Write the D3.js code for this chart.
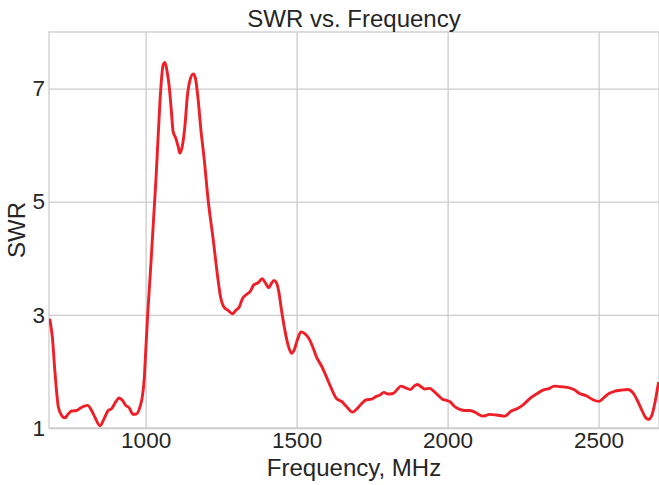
<!DOCTYPE html>
<html>
<head>
<meta charset="utf-8">
<script src="https://cdn.jsdelivr.net/npm/d3@7"></script>
<style>
  html, body { margin: 0; padding: 0; background: #fff; }
  svg { display: block; }
  text { font-family: "Liberation Sans", Arial, sans-serif; fill: #262626; }
</style>
</head>
<body>
<svg id="chart" width="659" height="485"></svg>
<script>
const frequency = [683,691,700,711,722,733,744,755,772,783,799,808,821,832,849,863,876,887,901,912,923,934,945,959,970,981,989,995,1001,1007,1014,1034,1042,1050,1058,1064,1071,1078,1085,1091,1100,1108,1113,1121,1130,1138,1147,1158,1165,1174,1183,1193,1207,1224,1240,1248,1259,1273,1288,1299,1310,1321,1334,1347,1358,1373,1386,1395,1408,1417,1425,1433,1441,1450,1461,1472,1483,1492,1502,1514,1527,1541,1555,1568,1582,1599,1615,1632,1649,1665,1685,1698,1715,1731,1748,1764,1775,1789,1803,1819,1833,1845,1861,1877,1889,1899,1910,1924,1941,1954,1968,1983,1996,2009,2023,2040,2057,2073,2090,2117,2139,2161,2189,2211,2233,2250,2272,2294,2316,2332,2354,2377,2404,2421,2437,2459,2481,2501,2514,2534,2553,2575,2597,2614,2628,2641,2655,2665,2676,2687,2698];
const swr = [2.91,2.61,1.97,1.37,1.22,1.18,1.25,1.30,1.31,1.35,1.39,1.40,1.31,1.19,1.04,1.17,1.31,1.34,1.46,1.53,1.49,1.40,1.36,1.24,1.25,1.37,1.55,1.84,2.43,3.02,3.61,5.38,6.21,6.98,7.42,7.46,7.30,7.04,6.62,6.24,6.12,5.97,5.86,5.97,6.33,6.86,7.15,7.26,7.18,6.80,6.27,5.80,5.03,4.32,3.61,3.32,3.14,3.08,3.02,3.08,3.14,3.29,3.36,3.42,3.53,3.57,3.64,3.58,3.48,3.56,3.61,3.57,3.41,3.08,2.73,2.46,2.32,2.38,2.55,2.70,2.67,2.58,2.41,2.23,2.10,1.90,1.70,1.52,1.47,1.38,1.28,1.33,1.43,1.50,1.51,1.56,1.58,1.63,1.60,1.61,1.68,1.74,1.71,1.68,1.74,1.77,1.74,1.69,1.70,1.65,1.58,1.51,1.49,1.46,1.38,1.33,1.31,1.31,1.28,1.21,1.24,1.23,1.21,1.30,1.35,1.41,1.52,1.60,1.67,1.69,1.74,1.73,1.71,1.67,1.61,1.57,1.50,1.47,1.52,1.61,1.65,1.67,1.68,1.62,1.49,1.34,1.19,1.15,1.22,1.46,1.79];
const xTicks = [1000, 1500, 2000, 2500];
const yTicks = [1, 3, 5, 7];
const xDomain = [680, 2700];
const yDomain = [1, 8];
const titleText = "SWR vs. Frequency";
const xLabel = "Frequency, MHz";
const yLabel = "SWR";

const W = 659, H = 485;
const m = { left: 49, right: 0, top: 32, bottom: 57 };
const svg = d3.select("#chart");
const x = d3.scaleLinear().domain(xDomain).range([m.left, W - m.right]);
const y = d3.scaleLinear().domain(yDomain).range([H - m.bottom, m.top]);
const grid = "#cccccc";

svg.append("rect").attr("x", m.left).attr("y", m.top)
  .attr("width", W - m.right - m.left).attr("height", H - m.bottom - m.top)
  .attr("fill", "#fff").attr("stroke", grid).attr("stroke-width", 1.3);

const gx = svg.append("g").attr("transform", `translate(0,${H - m.bottom})`)
  .call(d3.axisBottom(x).tickValues(xTicks).tickSize(-(H - m.bottom - m.top)).tickPadding(4).tickFormat(d3.format("d")));
const gy = svg.append("g").attr("transform", `translate(${m.left},0)`)
  .call(d3.axisLeft(y).tickValues(yTicks).tickSize(-(W - m.right - m.left)).tickPadding(4).tickFormat(d3.format("d")));
[gx, gy].forEach(g => {
  g.select(".domain").remove();
  g.selectAll(".tick line").attr("stroke", grid).attr("stroke-width", 1.3);
  g.selectAll(".tick text").attr("font-size", 22.5).attr("fill", "#262626")
    .style("font-family", '"Liberation Sans", Arial, sans-serif');
});
gx.selectAll(".tick text").attr("dy", "0.71em");

svg.append("clipPath").attr("id", "clip").append("rect")
  .attr("x", m.left).attr("y", m.top).attr("width", W - m.right - m.left).attr("height", H - m.bottom - m.top);

const data = frequency.map((f, i) => ({ f, s: swr[i] }));
const line = d3.line().x(d => x(d.f)).y(d => y(d.s)).curve(d3.curveMonotoneX);
svg.append("path").datum(data).attr("clip-path", "url(#clip)")
  .attr("d", line).attr("fill", "none").attr("stroke", "#ee1f27").attr("stroke-width", 2.9)
  .attr("stroke-linejoin", "round").attr("stroke-linecap", "round");

svg.append("text").attr("x", (m.left + W - m.right) / 2).attr("y", 27)
  .attr("text-anchor", "middle").attr("font-size", 24).text(titleText);
svg.append("text").attr("x", (m.left + W - m.right) / 2).attr("y", 476)
  .attr("text-anchor", "middle").attr("font-size", 24).text(xLabel);
svg.append("text").attr("transform", `translate(25,${(m.top + H - m.bottom) / 2}) rotate(-90)`)
  .attr("text-anchor", "middle").attr("font-size", 24).text(yLabel);
</script>
</body>
</html>
